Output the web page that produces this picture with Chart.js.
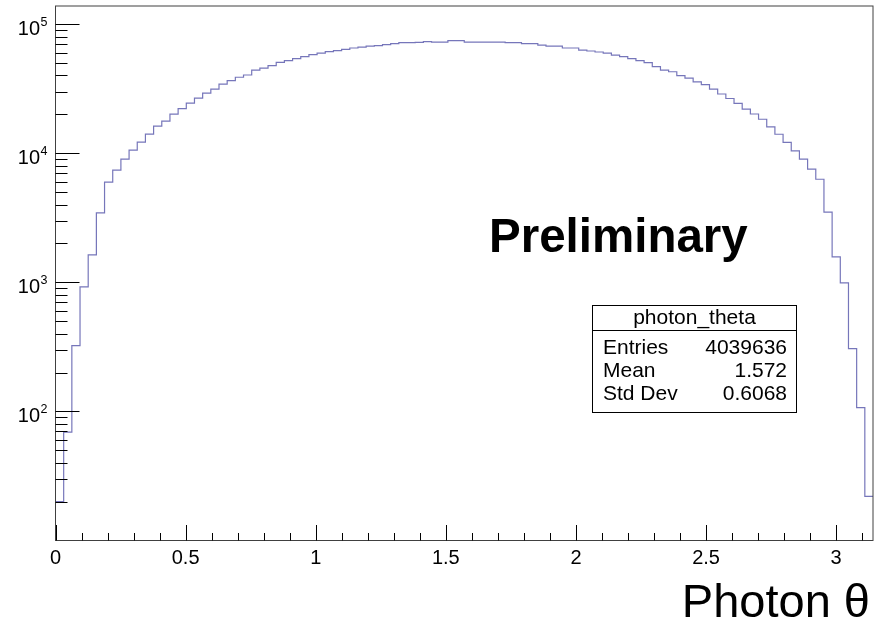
<!DOCTYPE html>
<html><head><meta charset="utf-8">
<script src="https://cdn.jsdelivr.net/npm/chart.js@4/dist/chart.umd.min.js"></script>
<style>html,body{margin:0;padding:0;background:#fff;}#wrap{width:875px;height:626px;position:relative;}</style>
</head><body><div id="wrap"><canvas id="c" width="875" height="626"></canvas></div>
<script>
// ---- data ----
const histName = 'photon_theta';
const xTitle = 'Photon \u03b8';
const watermark = 'Preliminary';
const nBins = 100;
const xMin = 0;
const xMax = Math.PI;
const binCounts = [
  20, 69, 323, 920, 1630, 3450, 5960, 7380, 8980, 10540,
  12160, 14030, 16190, 17700, 20050, 22080, 24420, 26690, 29170, 31340,
  34270, 36400, 38700, 40290, 43990, 45600, 47600, 50500, 52000, 53900,
  55900, 57900, 59600, 61100, 62200, 63700, 65200, 66300, 67500, 68000,
  69200, 70500, 71700, 71700, 72100, 73000, 72400, 72400, 74300, 74300,
  72400, 72400, 72400, 72400, 72400, 71700, 71700, 70500, 70500, 68700,
  67500, 67500, 65200, 65200, 62800, 61800, 60700, 59600, 57500, 55900,
  53900, 52000, 50200, 46800, 44000, 42700, 39800, 38100, 35700, 33900,
  31300, 28700, 26500, 24300, 21900, 20100, 18300, 16000, 14000, 12100,
  10400, 9000, 7510, 6280, 3490, 1575, 990, 306, 107, 22
];
const xTickValues = [0, 0.5, 1, 1.5, 2, 2.5, 3];
const xTickLabels = ['0', '0.5', '1', '1.5', '2', '2.5', '3'];
const yDecadeExponents = [2, 3, 4, 5];
const statLabels = ['Entries', 'Mean', 'Std Dev'];
const statValues = ['4039636', '1.572', '0.6068'];
const yMin = 10, yMax = 137900;

// ---- build points (bin low edges + closing edge) ----
const binWidth = (xMax - xMin) / nBins;
const points = binCounts.map((v, k) => ({x: xMin + k * binWidth, y: v}));
points.push({x: xMax, y: binCounts[binCounts.length - 1]});

const FONT = "'Liberation Sans', Arial, Helvetica, sans-serif";

const rootDecor = {
  id: 'rootDecor',
  afterDatasetsDraw(chart) {
    const ctx = chart.ctx;
    const a = chart.chartArea;
    const xs = chart.scales.x, ys = chart.scales.y;
    ctx.save();
    // frame
    ctx.strokeStyle = '#404040';
    ctx.lineWidth = 1;
    ctx.strokeRect(a.left, a.top, a.right - a.left, a.bottom - a.top);
    // y ticks
    ctx.strokeStyle = '#000';
    ctx.beginPath();
    for (let e = 1; e <= 5; e++) {
      for (let m = 1; m <= 9; m++) {
        const v = m * Math.pow(10, e);
        if (v <= yMin || v > yMax) continue;
        const py = Math.round(ys.getPixelForValue(v)) + 0.5;
        const len = m === 1 ? 24 : 12;
        ctx.moveTo(a.left, py);
        ctx.lineTo(a.left + len, py);
      }
    }
    // x ticks
    for (let i = 0; i <= 31; i++) {
      const v = i / 10;
      if (v > xMax) continue;
      const px = Math.round(xs.getPixelForValue(v)) + 0.5;
      const len = (i % 5 === 0) ? 15.5 : 7.5;
      ctx.moveTo(px, a.bottom);
      ctx.lineTo(px, a.bottom - len);
    }
    ctx.stroke();

    // y labels
    ctx.fillStyle = '#000';
    yDecadeExponents.forEach(e => {
      const py = ys.getPixelForValue(Math.pow(10, e));
      ctx.font = '20px ' + FONT;
      ctx.textAlign = 'right';
      ctx.textBaseline = 'alphabetic';
      ctx.fillText('10', 40, py + 10.5);
      ctx.font = '12.5px ' + FONT;
      ctx.textAlign = 'left';
      ctx.fillText(String(e), 40.5, py + 1.5);
    });
    // x labels
    ctx.font = '20px ' + FONT;
    ctx.textAlign = 'center';
    xTickValues.forEach((v, i) => {
      ctx.fillText(xTickLabels[i], xs.getPixelForValue(v), 563.5);
    });
    // x title
    ctx.font = '47px ' + FONT;
    ctx.textAlign = 'right';
    ctx.fillText(xTitle, 870, 617);

    // watermark
    ctx.font = 'bold 47.5px ' + FONT;
    ctx.textAlign = 'left';
    ctx.fillText(watermark, 489, 252);

    // stats box
    const bx = 592.5, by = 305.5, bw = 204, bh = 107;
    ctx.fillStyle = '#fff';
    ctx.fillRect(bx, by, bw, bh);
    ctx.strokeStyle = '#000';
    ctx.strokeRect(bx, by, bw, bh);
    ctx.beginPath();
    ctx.moveTo(bx, 330.5); ctx.lineTo(bx + bw, 330.5);
    ctx.stroke();
    ctx.fillStyle = '#000';
    ctx.font = '21px ' + FONT;
    ctx.textAlign = 'center';
    ctx.fillText(histName, bx + bw / 2, 323.5);
    const rowBase = [354, 377, 400];
    statLabels.forEach((lab, i) => {
      ctx.textAlign = 'left';
      ctx.fillText(lab, 603, rowBase[i]);
      ctx.textAlign = 'right';
      ctx.fillText(statValues[i], 787, rowBase[i]);
    });
    ctx.restore();
  }
};

new Chart(document.getElementById('c'), {
  type: 'line',
  data: {
    datasets: [{
      label: histName,
      data: points,
      stepped: 'before',
      borderColor: 'rgb(118,118,186)',
      borderWidth: 1.2,
      pointRadius: 0,
      fill: false,
      tension: 0
    }]
  },
  options: {
    responsive: false,
    animation: false,
    devicePixelRatio: 1,
    layout: {padding: {left: 55.5, right: 2, top: 6, bottom: 85.5}},
    plugins: {legend: {display: false}, tooltip: {enabled: false}, title: {display: false}},
    scales: {
      x: {type: 'linear', min: xMin, max: xMax, display: false},
      y: {type: 'logarithmic', min: yMin, max: yMax, display: false}
    }
  },
  plugins: [rootDecor]
});
</script>
</body></html>
